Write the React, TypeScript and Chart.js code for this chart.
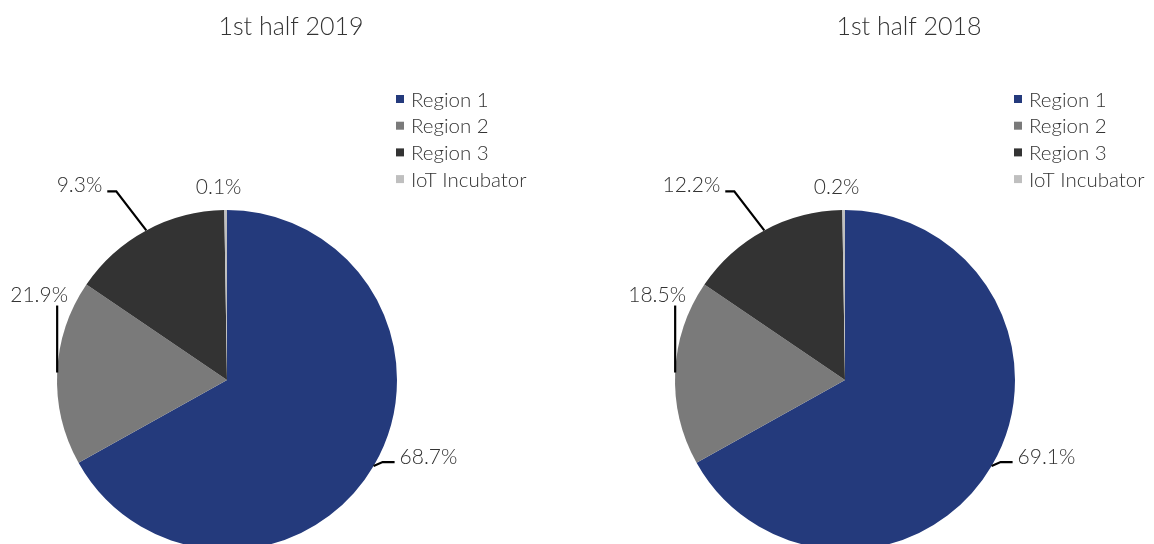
import React, { useEffect, useRef } from "react";
import { Chart, registerables } from "chart.js";

Chart.register(...registerables);

// ---- data ----
const categories = ["Region 1", "Region 2", "Region 3", "IoT Incubator"];
// slice proportions as drawn in the picture
const slices2019 = [66.9, 17.6, 15.25, 0.25];
const slices2018 = [66.9, 17.6, 15.25, 0.25];
// printed percentage labels
const labelPct2019 = [68.7, 21.9, 9.3, 0.1];
const labelPct2018 = [69.1, 18.5, 12.2, 0.2];
const titles = ["1st half 2019", "1st half 2018"];

// ---- style ----
const colors = ["#243A7C", "#7A7A7A", "#333333", "#BFBFBF"];
const FONT = "Lato, 'Open Sans', sans-serif";
const TEXT = "#333333";

// leader-line geometry relative to the slice's outer mid-point
const labelLayout = [
  { path: [[0, 0], [9, -4], [21, -4]], text: [26, -9], align: "left" },
  { path: [[0, 0], [0, -67]], text: [-18, -77], align: "center" },
  { path: [[0, 0], [-30, -39], [-39, -39]], text: [-44, -45], align: "right" },
  { path: null, text: [-7, -23], align: "center" },
];

const overlayPlugin = {
  id: "overlay",
  afterDraw(chart: any, _args: any, opts: any) {
    const ctx = chart.ctx;
    const meta = chart.getDatasetMeta(0);
    const first = meta.data[0];
    const cx = first.x;
    const cy = first.y;
    const r = first.outerRadius;
    ctx.save();
    // title
    ctx.fillStyle = TEXT;
    ctx.font = `300 25px ${FONT}`;
    ctx.textAlign = "center";
    ctx.textBaseline = "middle";
    ctx.fillText(opts.title, cx + 64, 27);
    // legend
    ctx.font = `300 20.5px ${FONT}`;
    ctx.textAlign = "left";
    categories.forEach((c, i) => {
      const y = 99 + i * 26.7;
      ctx.fillStyle = colors[i];
      ctx.fillRect(cx + 169, y - 4, 8, 8);
      ctx.fillStyle = TEXT;
      ctx.fillText(c, cx + 184, y + 1);
    });
    // data labels
    meta.data.forEach((arc: any, i: number) => {
      const mid = (arc.startAngle + arc.endAngle) / 2;
      const ex = cx + Math.cos(mid) * r;
      const ey = cy + Math.sin(mid) * r;
      const lay = labelLayout[i];
      if (lay.path) {
        ctx.strokeStyle = "#000";
        ctx.lineWidth = 2.2;
        ctx.beginPath();
        lay.path.forEach((p: number[], k: number) => {
          if (k === 0) ctx.moveTo(ex + p[0], ey + p[1]);
          else ctx.lineTo(ex + p[0], ey + p[1]);
        });
        ctx.stroke();
      }
      ctx.fillStyle = TEXT;
      ctx.font = `300 21px ${FONT}`;
      ctx.textAlign = lay.align;
      ctx.textBaseline = "middle";
      ctx.fillText(opts.pcts[i].toFixed(1) + "%", ex + lay.text[0], ey + lay.text[1]);
    });
    ctx.restore();
  },
};

function PieChart(props: { slices: number[]; pcts: number[]; title: string; padLeft: number; left: number }) {
  const ref = useRef<HTMLCanvasElement>(null);
  useEffect(() => {
    if (!ref.current) return;
    const W = 577;
    const chart = new Chart(ref.current, {
      type: "pie",
      data: {
        labels: categories,
        datasets: [
          {
            data: props.slices,
            backgroundColor: colors,
            borderWidth: 0,
          },
        ],
      },
      options: {
        responsive: false,
        animation: false,
        layout: {
          padding: { left: props.padLeft, top: 210, right: W - props.padLeft - 340, bottom: 10 },
        },
        plugins: {
          legend: { display: false },
          tooltip: { enabled: false },
          title: { display: false },
          overlay: { title: props.title, pcts: props.pcts },
        } as any,
      },
      plugins: [overlayPlugin],
    });
    return () => chart.destroy();
  }, []);
  return (
    <canvas
      ref={ref}
      width={577}
      height={560}
      style={{ position: "absolute", left: props.left, top: 0, width: 577, height: 560 }}
    />
  );
}

export default function App() {
  return (
    <div
      style={{
        position: "absolute",
        left: 0,
        top: 0,
        width: 1154,
        height: 544,
        overflow: "hidden",
        background: "#fff",
      }}
    >
      <PieChart slices={slices2019} pcts={labelPct2019} title={titles[0]} padLeft={57} left={0} />
      <PieChart slices={slices2018} pcts={labelPct2018} title={titles[1]} padLeft={98} left={577} />
    </div>
  );
}
